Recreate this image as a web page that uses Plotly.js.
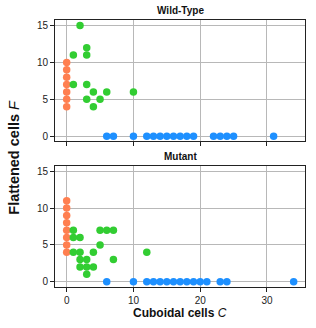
<!DOCTYPE html>
<html><head><meta charset="utf-8">
<script src="https://cdn.plot.ly/plotly-3.0.1.min.js"></script>
<style>html,body{margin:0;padding:0;background:#fff}#chart{width:316px;height:328px}</style>
</head><body><div id="chart"></div>
<script>
// Wild-Type
const wtOrangeX = [0,0,0,0,0,0,0];
const wtOrangeY = [4,5,6,7,8,9,10];
const wtGreenX = [1,1,2,3,3,3,3,4,4,5,6,10];
const wtGreenY = [11,7,15,12,11,7,5,6,4,5,6,6];
const wtBlueX = [6,7,10,12,13,14,15,16,17,18,19,22,23,24,25,31];
const wtBlueY = [0,0,0,0,0,0,0,0,0,0,0,0,0,0,0,0];
// Mutant
const mtOrangeX = [0,0,0,0,0,0,0,0];
const mtOrangeY = [4,5,6,7,8,9,10,11];
const mtGreenX = [1,1,2,1,2,2,3,2,3,4,3,4,5,5,6,7,7,12];
const mtGreenY = [7,6,6,4,4,3,3,2,2,2,1,4,7,5,7,7,3,4];
const mtBlueX = [6,10,12,13,14,15,16,17,18,19,20,21,23,24,34];
const mtBlueY = [0,0,0,0,0,0,0,0,0,0,0,0,0,0,0];
const panelTitles = ['Wild-Type','Mutant'];
const xTicks = [0,10,20,30];
const yTicks = [0,5,10,15];

const cOrange = '#FF7F50', cGreen = '#32CD32', cBlue = '#1E90FF';
function tr(x,y,c,xa,ya){return {x:x,y:y,type:'scatter',mode:'markers',xaxis:xa,yaxis:ya,
  marker:{size:7.5,color:c,line:{width:0}},showlegend:false,hoverinfo:'skip'};}
const data = [
  tr(wtOrangeX,wtOrangeY,cOrange,'x','y'),
  tr(wtGreenX,wtGreenY,cGreen,'x','y'),
  tr(wtBlueX,wtBlueY,cBlue,'x','y'),
  tr(mtOrangeX,mtOrangeY,cOrange,'x2','y2'),
  tr(mtGreenX,mtGreenY,cGreen,'x2','y2'),
  tr(mtBlueX,mtBlueY,cBlue,'x2','y2')
];
const font = {family:'Liberation Sans, Arial, sans-serif', size:10, color:'#222'};
function xax(anchor, labels){return {anchor:anchor, range:[-1.75,35.7], tickvals:xTicks, showticklabels:labels,
  ticks:'outside', ticklen:4, tickcolor:'#222', showline:true, linecolor:'#222', linewidth:1, mirror:true,
  showgrid:true, gridcolor:'#b8b8b8', gridwidth:1, zeroline:false, tickfont:font};}
function yax(anchor, dom){return {anchor:anchor, domain:dom, range:[-0.72,15.75], tickvals:yTicks,
  ticks:'outside', ticklen:4, tickcolor:'#222', showline:true, linecolor:'#222', linewidth:1, mirror:true,
  showgrid:true, gridcolor:'#b8b8b8', gridwidth:1, zeroline:false, tickfont:font};}
const layout = {
  width:316, height:328, margin:{l:55,r:11,t:20,b:41},
  paper_bgcolor:'#fff', plot_bgcolor:'#fff', font:font,
  xaxis: xax('y', false),
  yaxis: yax('x', [0.545,1]),
  xaxis2: xax('y2', true),
  yaxis2: yax('x2', [0,0.454]),
  annotations:[
    {text:'<b>'+panelTitles[0]+'</b>', xref:'paper', yref:'paper', x:0.5, y:1.034, xanchor:'center', yanchor:'middle', showarrow:false, font:{family:font.family,size:10,color:'#111'}},
    {text:'<b>'+panelTitles[1]+'</b>', xref:'paper', yref:'paper', x:0.5, y:0.489, xanchor:'center', yanchor:'middle', showarrow:false, font:{family:font.family,size:10,color:'#111'}},
    {text:'<b>Cuboidal cells</b> <i>C</i>', xref:'paper', yref:'paper', x:0.5, y:-0.097, xanchor:'center', yanchor:'middle', showarrow:false, font:{family:font.family,size:12,color:'#111'}},
    {text:'<b>Flattened cells</b> <i>F</i>', xref:'paper', yref:'paper', x:-0.165, y:0.487, xanchor:'center', yanchor:'middle', textangle:-90, showarrow:false, font:{family:font.family,size:14.5,color:'#111'}}
  ]
};
Plotly.newPlot('chart', data, layout, {staticPlot:true, displayModeBar:false});
</script></body></html>
